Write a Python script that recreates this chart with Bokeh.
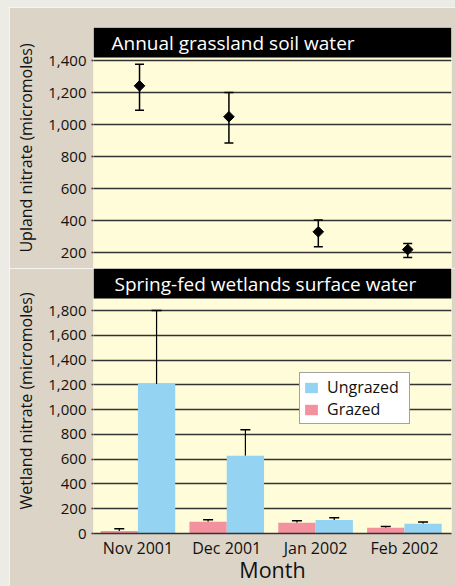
import numpy as np
from bokeh.plotting import figure
from bokeh.models import (ColumnDataSource, Whisker, TeeHead, FixedTicker,
                          NumeralTickFormatter, BoxAnnotation, Label, Legend, Range1d, Spacer)
from bokeh.layouts import column, row
from bokeh.embed import file_html
from bokeh.resources import INLINE

# ---------------- data ----------------
months = ["Nov 2001", "Dec 2001", "Jan 2002", "Feb 2002"]

upland_mean = [1242, 1049, 331, 220]
upland_low = [1090, 885, 237, 170]
upland_high = [1377, 1200, 404, 258]

wet_grazed = [20, 95, 86, 46]
wet_grazed_top = [38, 112, 103, 57]
wet_ungrazed = [1208, 628, 110, 78]
wet_ungrazed_top = [1800, 838, 127, 92]

upland_ticks = [200, 400, 600, 800, 1000, 1200, 1400]
wet_ticks = [0, 200, 400, 600, 800, 1000, 1200, 1400, 1600, 1800]

top_title = "Annual grassland soil water"
bottom_title = "Spring-fed wetlands surface water"
upland_label = "Upland nitrate (micromoles)"
wet_label = "Wetland nitrate (micromoles)"
x_label = "Month"

# ---------------- style ----------------
FONT = "Open Sans"
CREAM = "#fffcd9"
TAN = "#dcd4c7"
PAGE = "#ecebe6"
GRID = "#333333"
BLUE = "#94d3f2"
PINK = "#f4919e"

idx = list(range(len(months)))


def style_y(p, ticks, label):
    p.yaxis.ticker = FixedTicker(ticks=ticks)
    p.ygrid.ticker = FixedTicker(ticks=ticks)
    p.yaxis.formatter = NumeralTickFormatter(format="0,0")
    p.yaxis.axis_label = label
    p.yaxis.axis_label_text_font = FONT
    p.yaxis.axis_label_text_font_size = "16px"
    p.yaxis.axis_label_text_font_style = "normal"
    p.yaxis.axis_label_text_color = "#111111"
    p.yaxis.axis_label_standoff = 8
    p.yaxis.major_label_text_font = FONT
    p.yaxis.major_label_text_font_size = "15px"
    p.yaxis.major_label_text_color = "#111111"
    p.yaxis.major_label_standoff = 5
    p.yaxis.axis_line_color = None
    p.yaxis.major_tick_in = 0
    p.yaxis.major_tick_out = 2
    p.yaxis.major_tick_line_color = GRID
    p.yaxis.major_tick_line_width = 1.5
    p.yaxis.minor_tick_line_color = None
    p.xgrid.visible = False
    p.ygrid.grid_line_color = GRID
    p.ygrid.grid_line_width = 1.5


def title_bar(p, bottom, ymid, x0, text, xoff):
    p.add_layout(BoxAnnotation(bottom=bottom, fill_color="black", fill_alpha=1.0,
                               line_color=None))
    p.add_layout(Label(x=x0, y=ymid, x_offset=xoff, text=text, text_color="white",
                       text_font=FONT, text_font_size="19px",
                       text_baseline="middle", text_align="left"))


# ---------------- top panel ----------------
p1 = figure(width=446, height=261, x_range=Range1d(-0.515, 3.49),
            y_range=Range1d(102, 1606), x_axis_location=None,
            output_backend="svg", toolbar_location=None,
            min_border_left=84, min_border_right=4, min_border_top=20,
            min_border_bottom=0, background_fill_color=CREAM,
            border_fill_color=TAN, outline_line_color=None)
style_y(p1, upland_ticks, upland_label)

src1 = ColumnDataSource(dict(x=idx, y=upland_mean, lo=upland_low, hi=upland_high))
p1.add_layout(Whisker(base="x", lower="lo", upper="hi", source=src1,
                      line_color="black", line_width=1.5,
                      upper_head=TeeHead(size=9, line_color="black", line_width=1.5),
                      lower_head=TeeHead(size=9, line_color="black", line_width=1.5)))
p1.scatter("x", "y", source=src1, marker="square", angle=np.pi / 4, size=7.5,
           fill_color="black", line_color="black")
title_bar(p1, 1419, 1512, -0.515, top_title, 18)

# ---------------- bottom panel ----------------
p2 = figure(width=446, height=318, x_range=Range1d(-0.5, 3.53),
            y_range=Range1d(0, 2140),
            output_backend="svg", toolbar_location=None,
            min_border_left=84, min_border_right=4, min_border_top=0,
            min_border_bottom=53, background_fill_color=CREAM,
            border_fill_color=TAN, outline_line_color=None)
style_y(p2, wet_ticks, wet_label)

bw = 0.42
src_g = ColumnDataSource(dict(x=[i - bw / 2 for i in idx], top=wet_grazed, up=wet_grazed_top))
src_u = ColumnDataSource(dict(x=[i + bw / 2 for i in idx], top=wet_ungrazed, up=wet_ungrazed_top))

r_g = p2.vbar(x="x", top="top", width=bw, source=src_g, fill_color=PINK, line_color=None)
r_u = p2.vbar(x="x", top="top", width=bw, source=src_u, fill_color=BLUE, line_color=None)

for s in (src_g, src_u):
    p2.add_layout(Whisker(base="x", lower="top", upper="up", source=s,
                          line_color="black", line_width=1.2, lower_head=None,
                          upper_head=TeeHead(size=10, line_color="black", line_width=1.5)))

p2.xaxis.ticker = FixedTicker(ticks=idx)
p2.xaxis.major_label_overrides = {i: m for i, m in zip(idx, months)}
p2.xaxis.major_label_text_font = FONT
p2.xaxis.major_label_text_font_size = "16px"
p2.xaxis.major_label_text_color = "#111111"
p2.xaxis.major_label_standoff = 3
p2.xaxis.axis_label = x_label
p2.xaxis.axis_label_text_font = FONT
p2.xaxis.axis_label_text_font_size = "21.5px"
p2.xaxis.axis_label_text_font_style = "normal"
p2.xaxis.axis_label_text_color = "#111111"
p2.xaxis.axis_label_standoff = -7
p2.xaxis.major_tick_in = 0
p2.xaxis.major_tick_out = 0
p2.xaxis.minor_tick_line_color = None
p2.xaxis.axis_line_color = GRID
p2.xaxis.axis_line_width = 1.5

title_bar(p2, 1897, 2018, -0.5, bottom_title, 21)

legend = Legend(items=[("Ungrazed", [r_u]), ("Grazed", [r_g])], location=(206, 109),
                border_line_color="#444444", border_line_width=1.5,
                background_fill_color="white", background_fill_alpha=1.0,
                label_text_font=FONT, label_text_font_size="16px",
                label_text_color="#111111",
                glyph_width=16, glyph_height=13, label_standoff=8,
                padding=3, spacing=0, margin=0, label_height=18, label_width=79)
p2.add_layout(legend)

panels = column(p1, p2, spacing=0)
layout = column(
    Spacer(width=455, height=7, styles={"background-color": PAGE}),
    row(Spacer(width=9, height=579, styles={"background-color": PAGE}), panels, spacing=0),
    spacing=0,
)
open("out.html", "w").write(file_html(layout, INLINE))
